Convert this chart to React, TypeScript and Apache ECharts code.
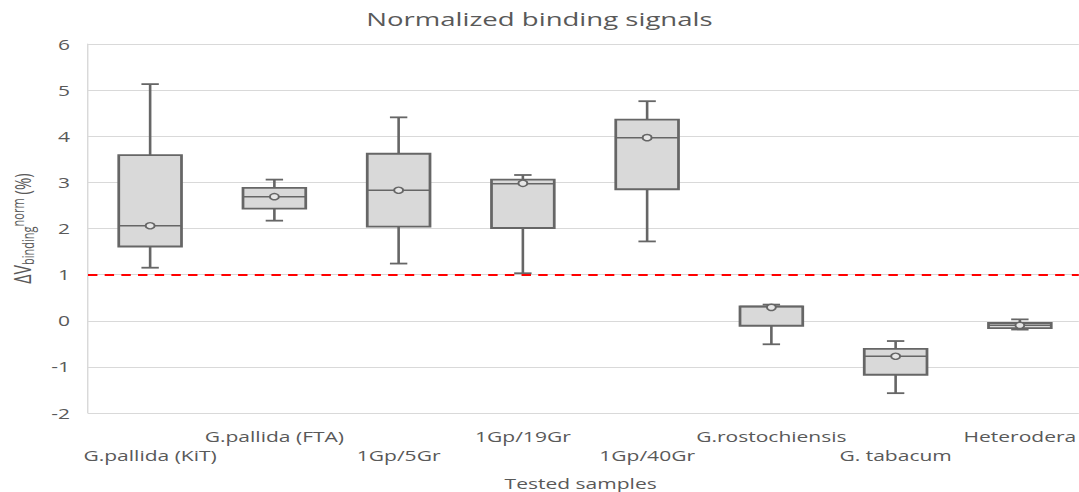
import React, { useEffect, useRef } from 'react';
import * as echarts from 'echarts';

const categories = ['G.pallida (KiT)', 'G.pallida (FTA)', '1Gp/5Gr', '1Gp/19Gr', '1Gp/40Gr', 'G.rostochiensis', 'G. tabacum', 'Heterodera'];
const whiskerMin = [1.15, 2.17, 1.24, 1.03, 1.72, -0.51, -1.57, -0.19];
const q1 = [1.61, 2.43, 2.04, 2.01, 2.85, -0.11, -1.17, -0.16];
const median = [2.06, 2.69, 2.83, 2.97, 3.97, 0.31, -0.77, -0.1];
const q3 = [3.59, 2.88, 3.62, 3.06, 4.36, 0.31, -0.61, -0.05];
const whiskerMax = [5.13, 3.06, 4.41, 3.16, 4.76, 0.35, -0.44, 0.03];
const mean = [2.06, 2.69, 2.83, 2.98, 3.97, 0.29, -0.77, -0.1];
const threshold = 1;
const yMin = -2;
const yMax = 6;
const yInterval = 1;

const FONT = 'Open Sans';
const TXT = '#595959';
const STROKE = '#666666';
// the reference picture is horizontally stretched; reproduce by a CSS stretch
const SX = 1.45;
const W = 1079;
const H = 492;

export default function App() {
  const ref = useRef<HTMLDivElement>(null);
  useEffect(() => {
    if (!ref.current) return;
    const chart = echarts.init(ref.current, undefined, { renderer: 'svg' });
    const data = categories.map((_, i) => [i, whiskerMin[i], q1[i], median[i], q3[i], whiskerMax[i], mean[i]]);
    chart.setOption({
      animation: false,
      backgroundColor: '#ffffff',
      title: {
        text: 'Normalized binding signals',
        left: 'center',
        top: 4,
        textStyle: { fontFamily: FONT, fontSize: 19, fontWeight: 'normal', color: TXT },
      },
      grid: {
        left: 88 / SX,
        top: 44,
        height: 369,
        width: 994 / SX,
        containLabel: false,
        outerBoundsMode: 'none',
      },
      xAxis: {
        type: 'category',
        data: categories,
        boundaryGap: true,
        axisLine: { show: false },
        axisTick: { show: false },
        splitLine: { show: false },
        axisLabel: {
          interval: 0,
          margin: 14,
          color: TXT,
          fontFamily: FONT,
          fontSize: 14.5,
          lineHeight: 19,
          formatter: (v: string, i: number) => (i % 2 === 0 ? '\n' + v : v),
        },
        name: 'Tested samples',
        nameLocation: 'middle',
        nameGap: 63,
        nameTextStyle: { color: TXT, fontFamily: FONT, fontSize: 14.5, lineHeight: 15, padding: [0, 6, 0, 0] },
      },
      yAxis: {
        type: 'value',
        min: yMin,
        max: yMax,
        interval: yInterval,
        axisLine: { show: true, lineStyle: { color: '#d9d9d9', width: 1 } },
        axisTick: { show: false },
        splitLine: { show: true, lineStyle: { color: '#d9d9d9', width: 1 } },
        axisLabel: { color: TXT, fontFamily: FONT, fontSize: 14.5, margin: 18 / SX },
        name: 'ΔV{sub|binding}{sup|norm}{base| (%)}',
        nameLocation: 'middle',
        nameRotate: 90,
        nameGap: 34,
        nameTextStyle: {
          color: TXT,
          fontFamily: FONT,
          fontSize: 16,
          lineHeight: 18,
          rich: {
            sub: { fontSize: 11, color: TXT, fontFamily: FONT, verticalAlign: 'bottom', lineHeight: 18 },
            sup: { fontSize: 11, color: TXT, fontFamily: FONT, verticalAlign: 'top', lineHeight: 18 },
            base: { fontSize: 15, color: TXT, fontFamily: FONT, lineHeight: 18 },
          },
        },
      },
      series: [
        {
          type: 'custom',
          data,
          encode: { x: 0, y: [1, 2, 3, 4, 5, 6] },
          renderItem: (params: any, api: any) => {
            const i = api.value(0);
            const lo = api.coord([i, api.value(1)]);
            const b1 = api.coord([i, api.value(2)]);
            const md = api.coord([i, api.value(3)]);
            const b3 = api.coord([i, api.value(4)]);
            const hi = api.coord([i, api.value(5)]);
            const mn = api.coord([i, api.value(6)]);
            const band = api.size([1, 0])[0];
            const bw = band * 0.505;
            const cw = band * 0.14;
            const cx = lo[0];
            const ls = { stroke: STROKE, lineWidth: 1.8 };
            return {
              type: 'group',
              children: [
                { type: 'line', shape: { x1: cx, y1: hi[1], x2: cx, y2: b3[1] }, style: ls },
                { type: 'line', shape: { x1: cx, y1: b1[1], x2: cx, y2: lo[1] }, style: ls },
                { type: 'line', shape: { x1: cx - cw / 2, y1: hi[1], x2: cx + cw / 2, y2: hi[1] }, style: ls },
                { type: 'line', shape: { x1: cx - cw / 2, y1: lo[1], x2: cx + cw / 2, y2: lo[1] }, style: ls },
                {
                  type: 'rect',
                  shape: { x: cx - bw / 2, y: b3[1], width: bw, height: b1[1] - b3[1] },
                  style: { fill: '#d9d9d9', stroke: STROKE, lineWidth: 1.9 },
                },
                { type: 'line', shape: { x1: cx - bw / 2, y1: md[1], x2: cx + bw / 2, y2: md[1] }, style: { stroke: STROKE, lineWidth: 1.5 } },
                {
                  type: 'circle',
                  shape: { cx, cy: mn[1], r: 3.1 },
                  style: { fill: '#e6e6e6', stroke: STROKE, lineWidth: 1.4 },
                },
              ],
            };
          },
          markLine: {
            silent: true,
            symbol: 'none',
            label: { show: false },
            lineStyle: { color: '#ff0000', type: [6.5, 5], width: 2 },
            data: [{ yAxis: threshold }],
          },
          z: 3,
        },
      ],
    });
    return () => chart.dispose();
  }, []);
  return (
    <div style={{ position: 'fixed', left: 0, top: 0, width: W, height: H, overflow: 'hidden', background: '#fff' }}>
      <div
        ref={ref}
        style={{ width: W / SX, height: H, transform: `scaleX(${SX})`, transformOrigin: '0 0' }}
      />
    </div>
  );
}
